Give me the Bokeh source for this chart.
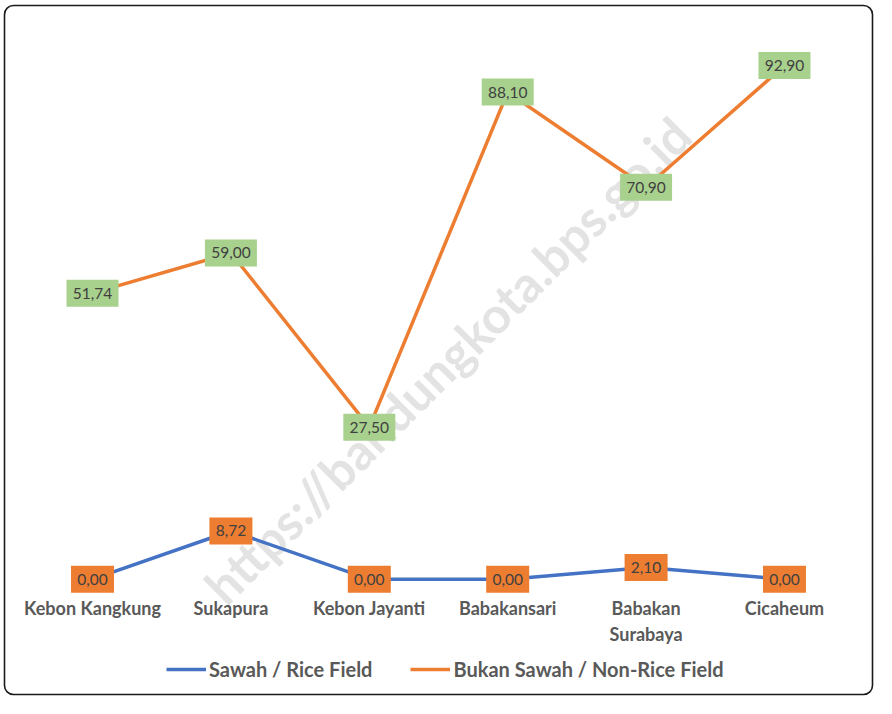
from bokeh.plotting import figure
from bokeh.models import FactorRange, Legend, LegendItem, Label, ColumnDataSource, BoxAnnotation
from bokeh.core.properties import value
from bokeh.embed import file_html
from bokeh.resources import INLINE

categories = ["Kebon Kangkung", "Sukapura", "Kebon Jayanti", "Babakansari", "Babakan\nSurabaya", "Cicaheum"]
sawah = [0.00, 8.72, 0.00, 0.00, 2.10, 0.00]
bukan_sawah = [51.74, 59.00, 27.50, 88.10, 70.90, 92.90]
series_names = ["Sawah / Rice Field", "Bukan Sawah / Non-Rice Field"]
watermark = "https://bandungkota.bps.go.id"

BLUE = "#4472C4"
ORANGE = "#ED7D31"
GREEN = "#A9D18E"
GREY = "#595959"
FONT = "Lato"

p = figure(width=876, height=698, output_backend="svg", toolbar_location=None,
           x_range=FactorRange(factors=categories, range_padding=0.165,
                               range_padding_units="absolute"),
           y_range=(-21.58, 104.67),
           min_border_left=0, min_border_right=0, min_border_top=0, min_border_bottom=0)
p.outline_line_color = None
p.grid.visible = False
p.yaxis.visible = False
p.xaxis.fixed_location = -1.57
p.xaxis.axis_line_color = None
p.xaxis.major_tick_line_color = None
p.xaxis.minor_tick_line_color = None
p.xaxis.major_label_standoff = 3
p.xaxis.major_label_text_font = FONT
p.xaxis.major_label_text_font_size = "18px"
p.xaxis.major_label_text_font_style = "bold"
p.xaxis.major_label_text_color = GREY


def fmt(v):
    return f"{v:.2f}".replace(".", ",")


def box_w(t):
    return 9 * len(t) + 7


wm = Label(x=3.065, y=39.6, text=watermark, angle=45, angle_units="deg",
           text_align="center", text_baseline="middle", text_font=FONT,
           text_font_size="50px", text_font_style="bold", text_color="#e3e3e3",
           level="underlay")
p.add_layout(wm)

src_a = ColumnDataSource(dict(x=categories, y=sawah, t=[fmt(v) for v in sawah]))
src_b = ColumnDataSource(dict(x=categories, y=bukan_sawah, t=[fmt(v) for v in bukan_sawah]))
src_a.data["w"] = [box_w(t) for t in src_a.data["t"]]
src_b.data["w"] = [box_w(t) for t in src_b.data["t"]]

r_a = p.line("x", "y", source=src_a, line_color=BLUE, line_width=3.5)
r_b = p.line("x", "y", source=src_b, line_color=ORANGE, line_width=3.5)

for src, fill in ((src_a, ORANGE), (src_b, GREEN)):
    p.rect("x", "y", width="w", height=27, width_units="screen", height_units="screen",
           source=src, fill_color=fill, line_color=None)
    p.text("x", "y", text="t", source=src, text_align="center", text_baseline="middle",
           text_font=value(FONT), text_font_size="15.5px", text_color="#404040")

legend = Legend(items=[LegendItem(label=series_names[0], renderers=[r_a]),
                       LegendItem(label=series_names[1], renderers=[r_b])],
                orientation="horizontal", location=(166, 17),
                label_text_font=FONT, label_text_font_size="20px", label_text_font_style="bold",
                label_text_color=GREY, glyph_width=40, label_standoff=3, spacing=38,
                border_line_color=None, background_fill_alpha=0, padding=0, margin=0)
p.add_layout(legend)

frame_box = BoxAnnotation(left=4, right=872, top=5, bottom=694,
                          left_units="canvas", right_units="canvas",
                          top_units="canvas", bottom_units="canvas",
                          fill_alpha=0, line_color="#1a1a1a", line_alpha=1.0, line_width=1.6,
                          border_radius=9, level="overlay")
p.add_layout(frame_box)

open("out.html", "w").write(file_html(p, INLINE))
